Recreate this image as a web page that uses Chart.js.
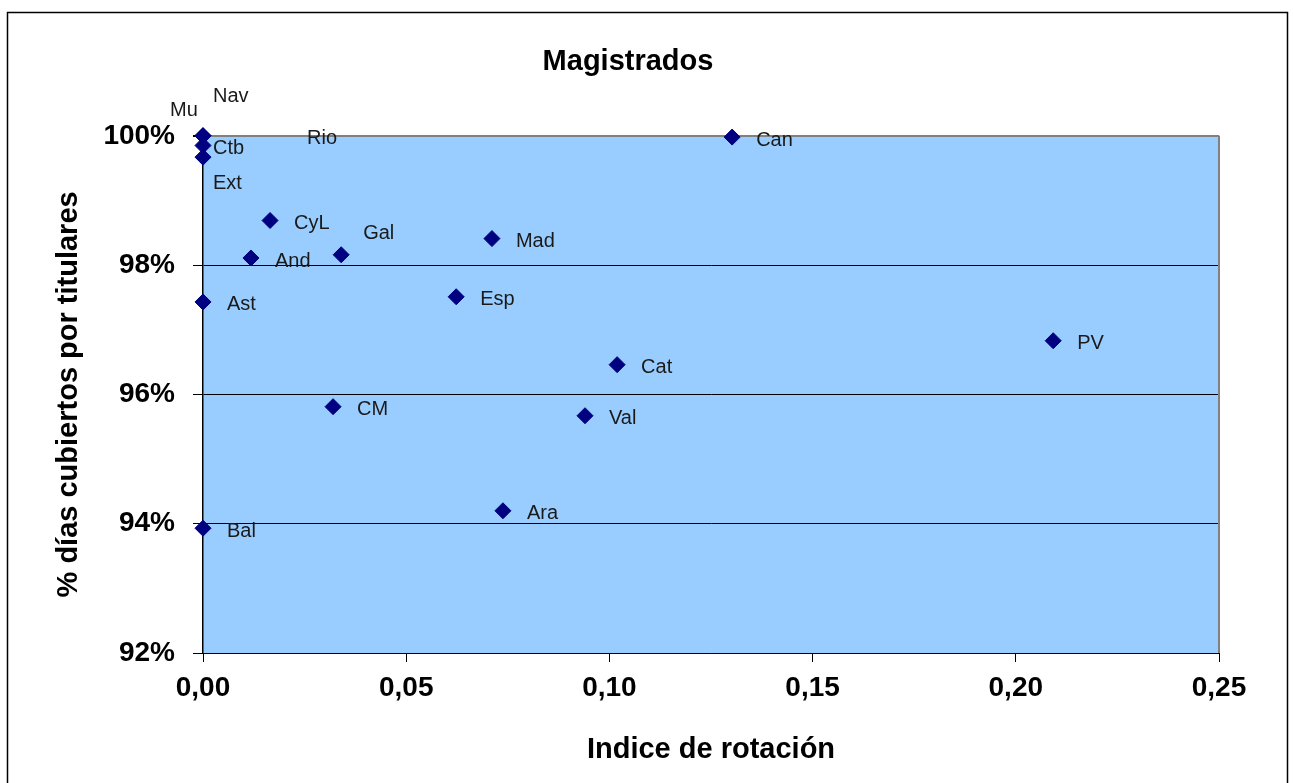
<!DOCTYPE html>
<html>
<head>
<meta charset="utf-8">
<script src="https://cdn.jsdelivr.net/npm/chart.js@4.4.1/dist/chart.umd.min.js"></script>
<style>
  html, body { margin: 0; padding: 0; background: #fff; }
  #wrap { width: 1293px; height: 783px; }
</style>
</head>
<body>
<div id="wrap"><canvas id="chart1" width="1293" height="783"></canvas></div>
<script>
// data
const regiones = ['Mu', 'Nav', 'Rio', 'Ctb', 'Ext', 'Can', 'CyL', 'Gal', 'And', 'Mad', 'Ast', 'Esp', 'PV', 'Cat', 'CM', 'Val', 'Ara', 'Bal'];
const indiceRotacion = [0, 0, 0, 0, 0, 0.1302, 0.0165, 0.034, 0.0118, 0.0711, 0, 0.0623, 0.2092, 0.1019, 0.032, 0.094, 0.0738, 0];
const pctCubiertos = [100, 100, 100, 99.85, 99.67, 99.98, 98.69, 98.16, 98.11, 98.41, 97.43, 97.51, 96.83, 96.46, 95.81, 95.67, 94.20, 93.93];

// label placement (hand moved ones in the original)
const labelNudge = {
  Mu: [-33, -25], Nav: [10, -39], Rio: [104, 3], Ctb: [10, 3], Ext: [10, 26], Gal: [22, -21]
};

Chart.defaults.font.family = "'Liberation Sans', Arial, sans-serif";
Chart.defaults.color = '#000';

const frame = {
  id: 'frame',
  beforeDraw(chart) {
    const { ctx, chartArea: a } = chart;
    ctx.save();
    ctx.fillStyle = '#fff';
    ctx.fillRect(0, 0, chart.width, chart.height);
    ctx.fillStyle = '#99ccff';
    ctx.fillRect(a.left, a.top, a.right - a.left, a.bottom - a.top);
    ctx.strokeStyle = '#000';
    ctx.lineWidth = 1.5;
    ctx.strokeRect(7.5, 12.5, 1280, 800);
    ctx.restore();
  },
  beforeDatasetsDraw(chart) {
    const { ctx, chartArea: a } = chart;
    ctx.save();
    ctx.strokeStyle = '#808080';
    ctx.lineWidth = 2;
    ctx.beginPath();
    ctx.moveTo(a.right, a.top);
    ctx.lineTo(a.right, a.bottom);
    ctx.stroke();
    ctx.restore();
  },
  afterDatasetsDraw(chart) {
    const { ctx } = chart;
    const meta = chart.getDatasetMeta(0);
    ctx.save();
    ctx.font = "20px 'Liberation Sans', Arial, sans-serif";
    ctx.fillStyle = '#1a1a1a';
    ctx.textAlign = 'left';
    ctx.textBaseline = 'middle';
    meta.data.forEach((pt, i) => {
      const name = regiones[i];
      const off = labelNudge[name] || [24, 3];
      ctx.fillText(name, pt.x + off[0], pt.y + off[1]);
    });
    ctx.restore();
  }
};

const ctx = document.getElementById('chart1').getContext('2d');
const chart = new Chart(ctx, {
  type: 'scatter',
  data: {
    datasets: [{
      label: 'Magistrados',
      data: indiceRotacion.map((x, i) => ({ x: x, y: pctCubiertos[i] })),
      clip: false,
      pointStyle: 'rectRot',
      pointRadius: 8,
      pointBackgroundColor: '#000080',
      pointBorderColor: '#000080',
      pointBorderWidth: 1
    }]
  },
  options: {
    responsive: false,
    animation: false,
    layout: { padding: { left: 37, right: 74, top: 0, bottom: 16 } },
    plugins: {
      legend: { display: false },
      tooltip: { enabled: false },
      title: {
        display: true,
        text: 'Magistrados',
        font: { size: 29, weight: 'bold' },
        color: '#000',
        padding: { top: 45, bottom: 56 }
      }
    },
    scales: {
      x: {
        type: 'linear',
        min: 0,
        max: 0.25,
        ticks: {
          stepSize: 0.05,
          padding: 9,
          font: { size: 28, weight: 'bold' },
          color: '#000',
          maxRotation: 0,
          callback: v => v.toFixed(2).replace('.', ',')
        },
        grid: { drawOnChartArea: false, drawTicks: true, tickLength: 9, tickColor: '#000' },
        border: { color: '#000', width: 1 },
        title: {
          display: true,
          text: 'Indice de rotación',
          font: { size: 29, weight: 'bold' },
          color: '#000',
          padding: { top: 20, bottom: 0 }
        },
        afterFit: s => { s.height = 114; }
      },
      y: {
        type: 'linear',
        min: 92,
        max: 100,
        ticks: {
          stepSize: 2,
          padding: 18,
          font: { size: 28, weight: 'bold' },
          color: '#000',
          callback: v => v + '%'
        },
        grid: {
          tickLength: 10,
          color: c => (c.tick && c.tick.value === 100) ? '#808080' : '#000',
          lineWidth: c => (c.tick && c.tick.value === 100) ? 2 : 1,
          tickColor: '#000'
        },
        border: { color: '#000', width: 1.5 },
        title: {
          display: true,
          text: '% días cubiertos por titulares',
          font: { size: 29, weight: 'bold' },
          color: '#000',
          padding: { top: 15, bottom: 0 }
        },
        afterFit: s => { s.width = 166; }
      }
    }
  },
  plugins: [frame]
});
</script>
</body>
</html>
